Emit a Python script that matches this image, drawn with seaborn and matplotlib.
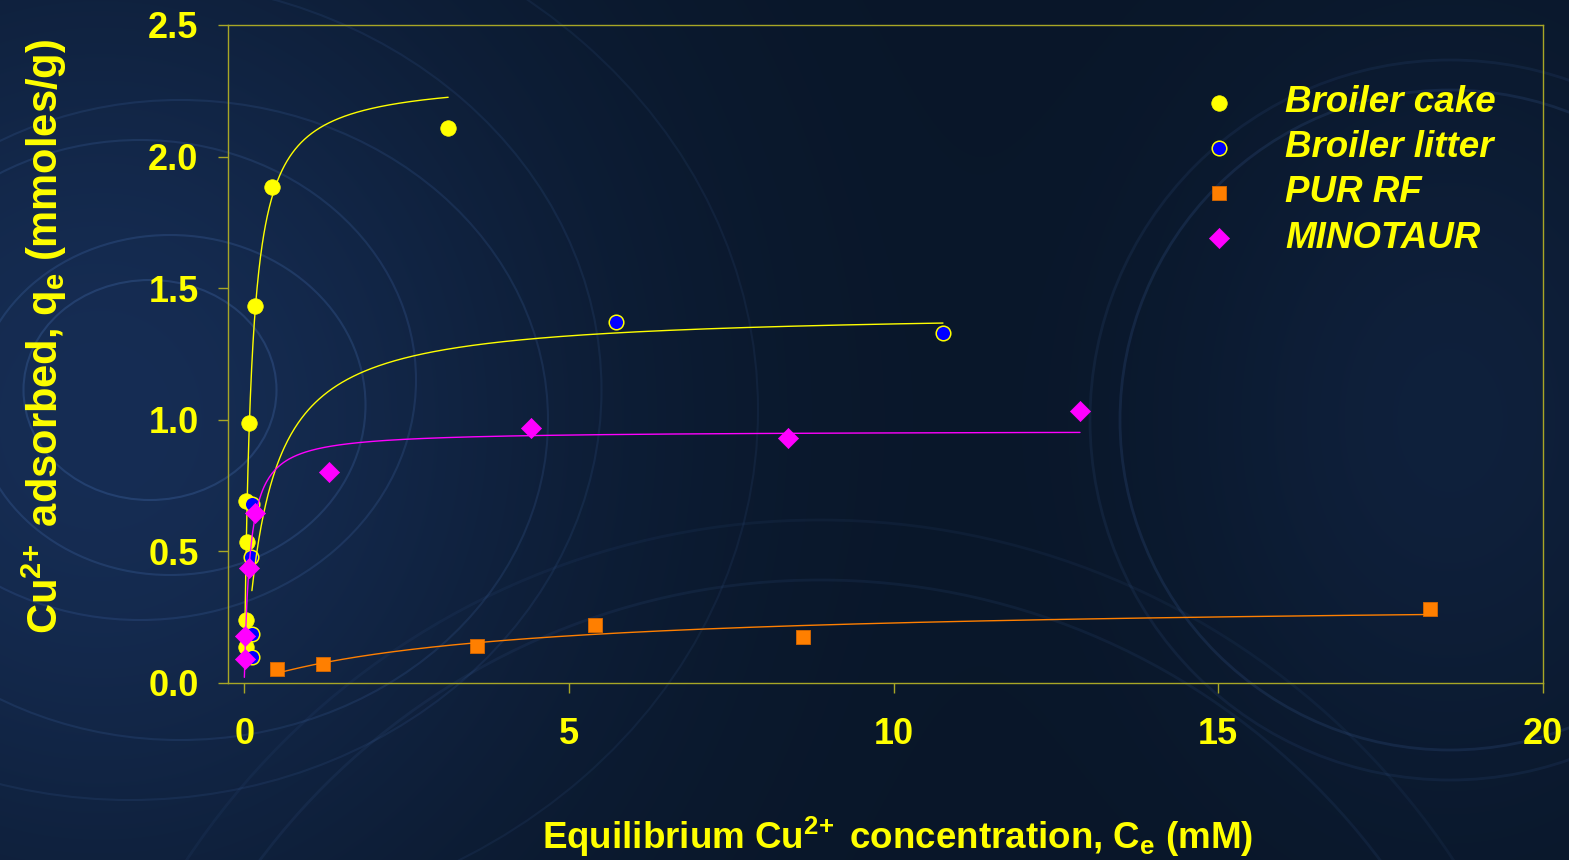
import numpy as np
import pandas as pd
import matplotlib
matplotlib.use("Agg")
import matplotlib.pyplot as plt
import seaborn as sns
from matplotlib.patches import Circle, Ellipse
from matplotlib.ticker import FormatStrFormatter

# ---- measured isotherm points: equilibrium Cu2+ (mM) vs Cu2+ adsorbed (mmol/g)
cake_ce = [0.031, 0.031, 0.041, 0.031, 0.066, 0.169, 0.425, 3.14]
cake_qe = [0.138, 0.239, 0.534, 0.693, 0.987, 1.434, 1.883, 2.11]

litter_ce = [0.118, 0.118, 0.100, 0.118, 5.73, 10.76]
litter_qe = [0.098, 0.186, 0.480, 0.680, 1.373, 1.331]

pur_ce = [0.505, 1.217, 3.58, 5.40, 8.61, 18.26]
pur_qe = [0.052, 0.072, 0.141, 0.219, 0.174, 0.280]

mino_ce = [0.005, 0.005, 0.077, 0.170, 1.31, 4.41, 8.38, 12.87]
mino_qe = [0.092, 0.179, 0.436, 0.645, 0.800, 0.970, 0.930, 1.035]

series_names = ["Broiler cake", "Broiler litter", "PUR RF", "MINOTAUR"]

# ---- Langmuir fits q = qmax*K*C/(1+K*C), drawn over the fitted C range
fit_qmax = [2.30, 1.413, 0.314, 0.9585]
fit_k = [9.5, 2.8, 0.2656, 11.46]
fit_cmin = [0.01, 0.118, 0.505, 0.002]
fit_cmax = [3.14, 10.76, 18.2, 12.87]

x_ticks = [0, 5, 10, 15, 20]
y_ticks = [0.0, 0.5, 1.0, 1.5, 2.0, 2.5]

# ---- styling
YELLOW = "#ffff00"
FRAME = "#a8a626"
BG = "#0a1729"

sns.set_theme(style="ticks")
plt.rcParams["font.family"] = ["Liberation Sans", "DejaVu Sans"]
plt.rcParams["font.weight"] = "bold"
plt.rcParams["mathtext.fontset"] = "custom"
plt.rcParams["mathtext.rm"] = "Liberation Sans:bold"
plt.rcParams["mathtext.it"] = "Liberation Sans:bold:italic"
plt.rcParams["mathtext.bf"] = "Liberation Sans:bold"
plt.rcParams["mathtext.default"] = "rm"

fig = plt.figure(figsize=(15.69, 8.60), dpi=100)
fig.patch.set_facecolor(BG)

# soft blue backdrop with a lighter glow on the left
H, W = 860, 1569
yy, xx = np.mgrid[0:H, 0:W]
glow = np.exp(-(((xx - 100) / 480.0) ** 2 + ((yy - 420) / 520.0) ** 2))
glow2 = 0.45 * np.exp(-(((xx - 1450) / 280.0) ** 2 + ((yy - 420) / 380.0) ** 2))
base = np.array([9, 22, 40]) / 255.0
light = np.array([22, 45, 84]) / 255.0
w = np.clip(glow + glow2, 0, 1)[..., None]
img = base * (1 - w) + light * w
fig.figimage(img, xo=0, yo=0, origin="upper", zorder=-30)

# faint swirl rings
ring_kw = dict(fill=False, transform=None, zorder=-20)
for (cx, cy), r, a in [((150, 470), 110, 0.28), ((170, 455), 170, 0.24), ((140, 480), 240, 0.2),
                       ((180, 440), 320, 0.17), ((130, 470), 410, 0.13), ((160, 450), 520, 0.1)]:
    fig.add_artist(Ellipse((cx, cy), 2 * r * 1.15, 2 * r, ec="#4a74b8", lw=1.5, alpha=a, **ring_kw))
for r, a in [(330, 0.16), (360, 0.11)]:
    fig.add_artist(Circle((1450, 440), r, ec="#4a74b8", lw=2.0, alpha=a, **ring_kw))
for r, a in [(700, 0.1), (760, 0.08)]:
    fig.add_artist(Circle((820, -420), r, ec="#4a74b8", lw=2.0, alpha=a, **ring_kw))

ax = fig.add_axes([228 / W, 1 - 683 / H, 1315 / W, 658 / H])
ax.set_facecolor("none")

# ---- data points
point_styles = [
    dict(marker="o", s=125, color=YELLOW, edgecolor=YELLOW, linewidth=0.5),
    dict(marker="o", s=110, color="#0000ff", edgecolor=YELLOW, linewidth=1.1),
    dict(marker="s", s=110, color="#ff7f00", edgecolor="#d86800", linewidth=0.6),
    dict(marker="D", s=105, color="#ff00ff", edgecolor="#ff00ff", linewidth=0.5),
]
line_colors = [YELLOW, YELLOW, "#ff7f00", "#ff00ff"]
ce_all = [cake_ce, litter_ce, pur_ce, mino_ce]
qe_all = [cake_qe, litter_qe, pur_qe, mino_qe]

handles = []
for i, name in enumerate(series_names):
    df = pd.DataFrame({"Ce": ce_all[i], "qe": qe_all[i]})
    sns.scatterplot(data=df, x="Ce", y="qe", ax=ax, label=name, zorder=3 + i, **point_styles[i])
    handles.append(ax.collections[-1])

for i in range(4):
    c = np.linspace(fit_cmin[i], fit_cmax[i], 600)
    q = fit_qmax[i] * fit_k[i] * c / (1 + fit_k[i] * c)
    sns.lineplot(x=c, y=q, ax=ax, color=line_colors[i], lw=1.0, estimator=None,
                 sort=False, legend=False, zorder=3 + i)

# ---- axes
ax.set_xlim(-0.25, 20)
ax.set_ylim(0, 2.5)
ax.set_xticks(x_ticks)
ax.set_yticks(y_ticks)
ax.yaxis.set_major_formatter(FormatStrFormatter("%.1f"))
ax.tick_params(axis="both", direction="out", length=7.2, width=1.0, color=FRAME,
               labelcolor=YELLOW, labelsize=26)
ax.tick_params(axis="x", pad=17)
ax.tick_params(axis="y", pad=14)
for lab in ax.get_xticklabels() + ax.get_yticklabels():
    lab.set_fontweight("bold")
for sp in ax.spines.values():
    sp.set_visible(True)
    sp.set_color(FRAME)
    sp.set_linewidth(1.0)

ax.set_xlabel(r"Equilibrium Cu$^{2\!+}$ concentration, C$_{e}$ (mM)",
              color=YELLOW, fontsize=26.5, fontweight="bold")
ax.set_ylabel(r"Cu$^{2\!+}$ adsorbed, q$_{e}$ (mmoles/g)",
              color=YELLOW, fontsize=30, fontweight="bold")
ax.xaxis.set_label_coords(0.509, -0.252)
ax.xaxis.label.set_va("baseline")
ax.yaxis.set_label_coords(-0.121, 0.526)

leg = ax.legend(handles=handles, labels=series_names, loc="upper left",
                bbox_to_anchor=(0.7395, 0.9085), frameon=False, borderpad=0,
                borderaxespad=0, handlelength=1.0, handletextpad=1.3,
                labelspacing=0.275, scatterpoints=1,
                prop=dict(family="Liberation Sans", weight="bold", style="italic", size=26.5))
for t in leg.get_texts():
    t.set_color(YELLOW)

fig.savefig("out.png", dpi=100, facecolor=fig.get_facecolor())
